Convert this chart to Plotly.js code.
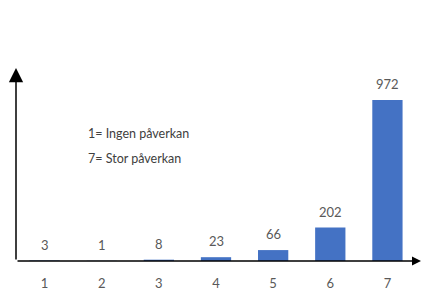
<!DOCTYPE html>
<html>
<head>
<meta charset="utf-8">
<script src="https://cdn.plot.ly/plotly-3.0.1.min.js"></script>
<style>html,body{margin:0;padding:0;background:#fff;}#chart{width:422px;height:291px;}</style>
</head>
<body>
<div id="chart"></div>
<script>
const categories = [1, 2, 3, 4, 5, 6, 7];
const tickLabels = ['1', '2', '3', '4', '5', '6', '7'];
const counts = [3, 1, 8, 23, 66, 202, 972];
const noteLines = ['1= Ingen påverkan', '7= Stor påverkan'];

const FONT = 'Lato, "Open Sans", sans-serif';

const trace = {
  type: 'bar',
  x: categories,
  y: counts,
  marker: {color: '#4472C4'},
  hoverinfo: 'none'
};

const annotations = [
  // y axis arrow
  {xref: 'paper', yref: 'paper', axref: 'paper', ayref: 'paper',
   x: 0, y: 1, ax: 0, ay: 0, text: '', showarrow: true,
   arrowhead: 2, arrowsize: 1.9, arrowwidth: 1.5, arrowcolor: '#000', standoff: 0, startstandoff: 0},
  // x axis arrow
  {xref: 'paper', yref: 'paper', axref: 'paper', ayref: 'paper',
   x: 1.014, y: 0, ax: 0, ay: 0, text: '', showarrow: true,
   arrowhead: 2, arrowsize: 1.2, arrowwidth: 1.5, arrowcolor: '#000', standoff: 0, startstandoff: 0}
];
// value labels above the bars
categories.forEach((c, i) => {
  annotations.push({xref: 'x', yref: 'y', x: c, y: counts[i], text: String(counts[i]),
    showarrow: false, xanchor: 'center', yanchor: 'bottom', yshift: 6,
    font: {family: FONT, size: 13, color: '#595959'}});
});
noteLines.forEach((t, i) => {
  annotations.push({xref: 'paper', yref: 'paper', x: 0.176, y: 0.663 - i * 0.13,
    xanchor: 'left', yanchor: 'middle', text: t, showarrow: false,
    font: {family: FONT, size: 12.5, color: '#404040'}});
});

const layout = {
  width: 422, height: 291,
  margin: {l: 16, r: 6, t: 68, b: 30},
  paper_bgcolor: '#fff', plot_bgcolor: '#fff',
  showlegend: false,
  bargap: 0.47,
  xaxis: {
    range: [0.5, 7.5], tickvals: categories, ticktext: tickLabels,
    showgrid: false, zeroline: false, showline: false, ticks: '',
    tickfont: {family: FONT, size: 13, color: '#595959'},
    ticklabelstandoff: 13
  },
  yaxis: {
    range: [0, 1166], showgrid: false, zeroline: false, showline: false,
    showticklabels: false, ticks: ''
  },
  annotations: annotations
};

Plotly.newPlot('chart', [trace], layout, {displayModeBar: false, staticPlot: true});
</script>
</body>
</html>
